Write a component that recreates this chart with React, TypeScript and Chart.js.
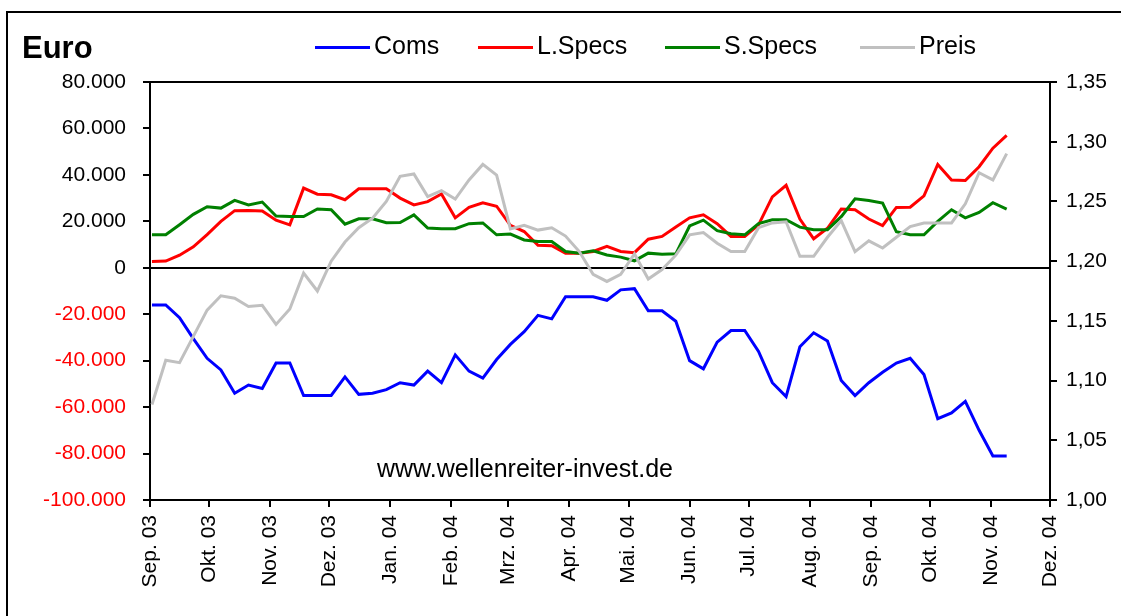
import React, { useEffect, useRef } from "react";
import { Chart, registerables } from "chart.js";

Chart.register(...registerables);

// Weekly report dates (Tuesdays)
const reportDates = [
  "2003-09-02", "2003-09-09", "2003-09-16", "2003-09-23", "2003-09-30",
  "2003-10-07", "2003-10-14", "2003-10-21", "2003-10-28",
  "2003-11-04", "2003-11-11", "2003-11-18", "2003-11-25",
  "2003-12-02", "2003-12-09", "2003-12-16", "2003-12-23", "2003-12-30",
  "2004-01-06", "2004-01-13", "2004-01-20", "2004-01-27",
  "2004-02-03", "2004-02-10", "2004-02-17", "2004-02-24",
  "2004-03-02", "2004-03-09", "2004-03-16", "2004-03-23", "2004-03-30",
  "2004-04-06", "2004-04-13", "2004-04-20", "2004-04-27",
  "2004-05-04", "2004-05-11", "2004-05-18", "2004-05-25",
  "2004-06-01", "2004-06-08", "2004-06-15", "2004-06-22", "2004-06-29",
  "2004-07-06", "2004-07-13", "2004-07-20", "2004-07-27",
  "2004-08-03", "2004-08-10", "2004-08-17", "2004-08-24", "2004-08-31",
  "2004-09-07", "2004-09-14", "2004-09-21", "2004-09-28",
  "2004-10-05", "2004-10-12", "2004-10-19", "2004-10-26",
  "2004-11-02", "2004-11-09",
];

const monthLabels = [
  "Sep. 03", "Okt. 03", "Nov. 03", "Dez. 03", "Jan. 04", "Feb. 04", "Mrz. 04", "Apr. 04",
  "Mai. 04", "Jun. 04", "Jul. 04", "Aug. 04", "Sep. 04", "Okt. 04", "Nov. 04", "Dez. 04",
];

const seriesLabels = ["Coms", "L.Specs", "S.Specs", "Preis"];
const titleText = "Euro";
const watermarkText = "www.wellenreiter-invest.de";

const coms = [
  -16000, -16000, -21500, -30500, -39000, -44000, -54000, -50500, -52000, -41000,
  -41000, -55000, -55000, -55000, -47000, -54500, -54000, -52500, -49500, -50500,
  -44500, -49500, -37500, -44500, -47500, -39500, -33000, -27500, -20500, -22000,
  -12500, -12500, -12500, -14000, -9500, -9000, -18500, -18500, -23000, -40000,
  -43500, -32000, -27000, -27000, -36000, -49500, -55500, -34000, -28000, -31500,
  -48500, -55000, -49500, -45000, -41000, -39000, -46000, -65000, -62500, -57500,
  -70000, -81000, -81000,
];

const lSpecs = [
  2700, 2900, 5400, 9000, 14300, 20000, 24600, 24700, 24500, 20500,
  18500, 34300, 31700, 31400, 29300, 34000, 34000, 34000, 30000, 27100,
  28500, 31800, 21500, 26000, 28000, 26500, 18300, 15600, 9700, 9500,
  6300, 6300, 7000, 9200, 7000, 6500, 12300, 13500, 17600, 21500,
  22800, 19000, 13500, 13500, 18500, 30500, 35500, 21000, 12500, 17000,
  25300, 25000, 21000, 18200, 26000, 26100, 31000, 44500, 37800, 37600,
  43500, 51500, 57000,
];

const sSpecs = [
  14200, 14200, 18500, 23000, 26300, 25700, 29000, 27100, 28300, 22300,
  22100, 22100, 25300, 25000, 18800, 21100, 21100, 19400, 19500, 22800,
  17100, 16800, 16800, 19000, 19300, 14200, 14500, 12000, 11300, 11300,
  7000, 6300, 7300, 5500, 4600, 3000, 6300, 5800, 6000, 18000,
  20500, 16000, 14700, 14200, 19000, 20700, 20700, 17500, 16400, 16400,
  22000, 29700, 29000, 27900, 15500, 14200, 14200, 20000, 25000, 21500,
  23800, 28000, 25300,
];

const preis = [
  1.080, 1.117, 1.115, 1.137, 1.159, 1.171, 1.169, 1.162, 1.163, 1.147,
  1.160, 1.190, 1.175, 1.200, 1.216, 1.228, 1.236, 1.250, 1.271, 1.273,
  1.254, 1.259, 1.252, 1.268, 1.281, 1.272, 1.227, 1.230, 1.226, 1.228,
  1.221, 1.208, 1.189, 1.183, 1.189, 1.206, 1.185, 1.193, 1.205, 1.222,
  1.224, 1.215, 1.208, 1.208, 1.228, 1.232, 1.233, 1.204, 1.204, 1.220,
  1.234, 1.208, 1.217, 1.211, 1.220, 1.229, 1.232, 1.232, 1.232, 1.248,
  1.274, 1.268, 1.290,
];

const seriesColors = ["#0000ff", "#ff0000", "#008000", "#c0c0c0"];

const DAY = 86400000;
const ORIGIN = Date.UTC(2003, 8, 1);
const toDay = (iso: string) => {
  const [y, m, d] = iso.split("-").map(Number);
  return (Date.UTC(y, m - 1, d) - ORIGIN) / DAY;
};
const xDays = reportDates.map(toDay);
const monthTicks = monthLabels.map((_, i) => (Date.UTC(2003, 8 + i, 1) - ORIGIN) / DAY);

const FONT = '"Liberation Sans", Arial, Helvetica, sans-serif';

const decorPlugin = {
  id: "decor",
  afterDraw(chart: any) {
    const ctx = chart.ctx as CanvasRenderingContext2D;
    ctx.save();
    ctx.fillStyle = "#000";
    ctx.textBaseline = "middle";
    ctx.textAlign = "left";
    ctx.font = `bold 31px ${FONT}`;
    ctx.fillText(titleText, 22, 49);

    const legendX = [315, 478, 665, 860];
    ctx.font = `25px ${FONT}`;
    chart.data.datasets.forEach((ds: any, i: number) => {
      const x = legendX[i];
      ctx.strokeStyle = ds.borderColor;
      ctx.lineWidth = 3;
      ctx.beginPath();
      ctx.moveTo(x, 47.5);
      ctx.lineTo(x + 55, 47.5);
      ctx.stroke();
      ctx.fillStyle = "#000";
      ctx.fillText(ds.label, x + 59, 47);
    });

    ctx.font = `25px ${FONT}`;
    ctx.fillText(watermarkText, 377, 470);
    ctx.restore();
  },
};

export default function App() {
  const ref = useRef<HTMLCanvasElement | null>(null);

  useEffect(() => {
    if (!ref.current) return;
    const series = [coms, lSpecs, sSpecs, preis];
    const chart = new Chart(ref.current, {
      type: "line",
      data: {
        datasets: series.map((vals, i) => ({
          label: seriesLabels[i],
          data: vals.map((v, j) => ({ x: xDays[j], y: v })),
          borderColor: seriesColors[i],
          backgroundColor: seriesColors[i],
          borderWidth: 3,
          pointRadius: 0,
          tension: 0,
          fill: false,
          yAxisID: i === 3 ? "y2" : "y",
          order: 4 - i,
        })),
      },
      options: {
        animation: false,
        responsive: false,
        devicePixelRatio: 1,
        layout: { padding: { top: 82, left: 0, right: 0, bottom: 0 } },
        plugins: {
          legend: { display: false },
          tooltip: { enabled: false },
          title: { display: false },
        },
        scales: {
          x: {
            type: "linear",
            min: monthTicks[0],
            max: monthTicks[monthTicks.length - 1],
            afterBuildTicks: (scale: any) => {
              scale.ticks = monthTicks.map((v) => ({ value: v }));
            },
            afterFit: (scale: any) => {
              scale.height = 116;
            },
            ticks: {
              autoSkip: false,
              minRotation: 90,
              maxRotation: 90,
              padding: 8,
              color: "#000",
              font: { family: FONT, size: 21 },
              callback: (_v: any, idx: number) => monthLabels[idx],
            },
            grid: {
              display: true,
              drawOnChartArea: false,
              drawTicks: true,
              tickLength: 7,
              color: "#000",
              lineWidth: 2,
            },
            border: { display: true, color: "#000", width: 2 },
          },
          y: {
            type: "linear",
            position: "left",
            min: -100000,
            max: 80000,
            afterFit: (scale: any) => {
              scale.width = 150;
            },
            ticks: {
              stepSize: 20000,
              padding: 17,
              font: { family: FONT, size: 21 },
              color: (c: any) => (c.tick && c.tick.value < 0 ? "#ff0000" : "#000"),
              callback: (v: any) => (Number(v) === 0 ? "0" : `${Math.round(Number(v) / 1000)}.000`),
            },
            grid: {
              display: true,
              drawOnChartArea: true,
              drawTicks: true,
              tickLength: 7,
              lineWidth: 2,
              tickColor: "#000",
              color: (c: any) =>
                c.tick && (c.tick.value === 0 || c.tick.value === 80000) ? "#000" : "rgba(0,0,0,0)",
            },
            border: { display: true, color: "#000", width: 2 },
          },
          y2: {
            type: "linear",
            position: "right",
            min: 1.0,
            max: 1.35,
            afterFit: (scale: any) => {
              scale.width = 71;
            },
            ticks: {
              stepSize: 0.05,
              padding: 9,
              color: "#000",
              font: { family: FONT, size: 21 },
              callback: (v: any) => Number(v).toFixed(2).replace(".", ","),
            },
            grid: {
              display: true,
              drawOnChartArea: false,
              drawTicks: true,
              tickLength: 7,
              color: "#000",
              lineWidth: 2,
            },
            border: { display: true, color: "#000", width: 2 },
          },
        },
      },
      plugins: [decorPlugin],
    } as any);
    return () => chart.destroy();
  }, []);

  return (
    <div
      style={{
        position: "fixed",
        left: 0,
        top: 0,
        width: 1121,
        height: 616,
        overflow: "hidden",
        background: "#fff",
      }}
    >
      <div
        style={{
          position: "absolute",
          left: 6,
          top: 11,
          width: 1200,
          height: 700,
          border: "2px solid #000",
        }}
      />
      <canvas
        ref={ref}
        width={1121}
        height={616}
        style={{ position: "absolute", left: 0, top: 0, width: 1121, height: 616 }}
      />
    </div>
  );
}
